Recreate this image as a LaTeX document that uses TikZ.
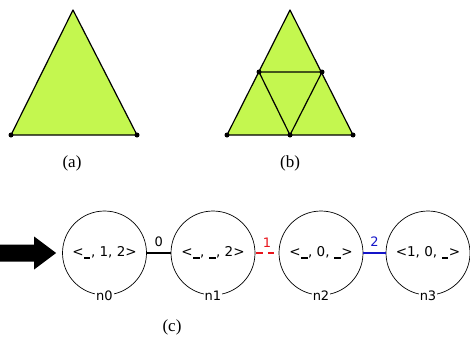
\documentclass[tikz,border=0pt]{standalone}
\usepackage{fontspec}
\setmainfont{Liberation Serif}
\newfontfamily\djv{DejaVu Sans}
\definecolor{tri}{HTML}{C4F74F}
\definecolor{edgered}{HTML}{E8141B}
\definecolor{edgeblue}{HTML}{1414C8}
\tikzset{
  face/.style={fill=tri,draw=black,line width=1.2pt,line join=round},
  seg/.style={draw=black,line width=1.2pt},
  vdot/.style={circle,fill=black,inner sep=0pt,minimum size=5pt},
  captext/.style={font=\fontsize{17}{19}\selectfont},
  state/.style={circle,draw=black,line width=0.7pt,minimum size=84pt,inner sep=0pt,font=\djv\fontsize{13.5}{15}\selectfont},
  nlab/.style={fill=white,inner sep=1pt,font=\djv\fontsize{13}{15}\selectfont},
  elab/.style={font=\djv\fontsize{13}{15}\selectfont},
}
\newcommand{\us}{\hspace{0.6pt}\rule[-2.6pt]{6.2pt}{2pt}\hspace{0.6pt}}
\begin{document}
\begin{tikzpicture}[x=1pt,y=-1pt]
\useasboundingbox (0,0) rectangle (470,340);
% (a)
\coordinate (aT) at (73,10);
\coordinate (aL) at (11,135);
\coordinate (aR) at (137,135);
\path[face] (aT) -- (aL) -- (aR) -- cycle;
\node[vdot] at (aL) {};
\node[vdot] at (aR) {};
\node[captext] (ca) at (72,163) {(a)};
% (b)
\coordinate (bT) at (290,10);
\coordinate (bL) at (227,135);
\coordinate (bM) at (290,135);
\coordinate (bR) at (353,135);
\coordinate (bml) at (259,72);
\coordinate (bmr) at (322,72);
\path[face] (bT) -- (bL) -- (bR) -- cycle;
\draw[seg] (bml) -- (bmr) -- (bM) -- cycle;
\foreach \p in {bL,bM,bR,bml,bmr} \node[vdot] at (\p) {};
\node[captext] (cb) at (290,163) {(b)};
% (c)
\node[state] (n0) at (104.5,253) {<\us, 1, 2>};
\node[state] (n1) at (213,253) {<\us, \us, 2>};
\node[state] (n2) at (321,253) {<\us, 0, \us>};
\node[state] (n3) at (428,253) {<1, 0, \us>};
\foreach \n in {n0,n1,n2,n3} \node[nlab] at (\n.south) {\n};
\draw[line width=2.4pt] (n0) -- node[elab,above=2pt] {0} (n1);
\draw[edgered,line width=1.3pt,dash pattern=on 6.5pt off 5pt,dash phase=-1pt] (n1) -- node[elab,text=edgered,above=2pt] {1} (n2);
\draw[edgeblue,line width=1.8pt] (n2) -- node[elab,text=edgeblue,above=2pt] {2} (n3);
\coordinate (tip) at ([xshift=-6pt]n0.west);
\fill (tip) -- ++(-22,-16.5) -- ++(0,8) -- ++(-40,0) -- ++(0,17) -- ++(40,0) -- ++(0,8) -- cycle;
\node[captext] (cc) at (172,327) {(c)};
\end{tikzpicture}
\end{document}
